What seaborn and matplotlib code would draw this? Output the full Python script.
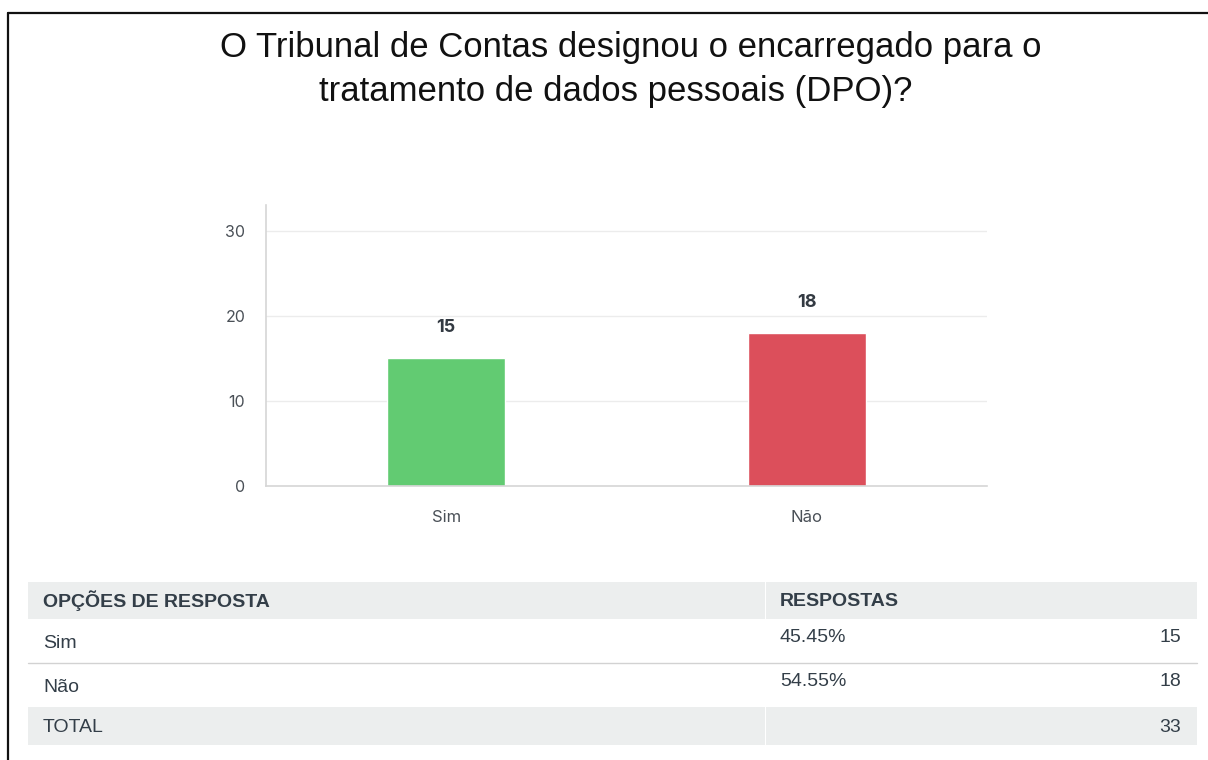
import matplotlib
matplotlib.use("Agg")
import matplotlib.pyplot as plt
import seaborn as sns
from matplotlib.patches import Rectangle
from matplotlib.lines import Line2D

# dados
opcoes = ["Sim", "Não"]
respostas = [15, 18]
cores = ["#62cb72", "#dc4f5b"]
titulo = ["O Tribunal de Contas designou o encarregado para o",
          "tratamento de dados pessoais (DPO)?"]
y_ticks = [0, 10, 20, 30]

total = sum(respostas)
percentuais = ["%.2f%%" % (100 * r / total) for r in respostas]

sns.set_theme(style="white")
plt.rcParams["font.family"] = ["Inter", "DejaVu Sans"]

W, H = 1208, 760
fig = plt.figure(figsize=(W / 100, H / 100), dpi=100)


def fx(px):
    return px / W


def fy(py):
    return 1 - py / H


# moldura
fig.add_artist(Line2D([fx(8), fx(1208)], [fy(13), fy(13)], color="#111111", lw=1.6))
fig.add_artist(Line2D([fx(8), fx(8)], [fy(13), fy(760)], color="#111111", lw=1.6))

# titulo
fig.text(fx(631), fy(48), titulo[0], ha="center", va="center", fontsize=25,
         family="Liberation Sans", color="#111111")
fig.text(fx(616), fy(92), titulo[1], ha="center", va="center", fontsize=25,
         family="Liberation Sans", color="#111111")

# grafico
ax = fig.add_axes([fx(266), fy(486), fx(987) - fx(266), fy(205) - fy(486)])
sns.barplot(x=opcoes, y=respostas, hue=opcoes, palette=cores, legend=False,
            width=0.327, saturation=1, ax=ax)
ax.set_ylim(0, 33)
ax.set_xlim(-0.5, 1.5)
ax.set_yticks(y_ticks)
ax.yaxis.grid(True, color="#ececec", lw=1)
ax.set_axisbelow(True)
for s in ["top", "right"]:
    ax.spines[s].set_visible(False)
for s in ["left", "bottom"]:
    ax.spines[s].set_color("#d6d6d6")
    ax.spines[s].set_linewidth(1.2)
ax.tick_params(axis="y", length=0, pad=15, labelsize=11.5, labelcolor="#4a5057")
ax.tick_params(axis="x", length=0, pad=17, labelsize=12, labelcolor="#4a5057")
ax.set_xlabel("")
ax.set_ylabel("")
for c in ax.containers:
    ax.bar_label(c, padding=16, fontsize=13, fontweight="bold", color="#333a42")

# tabela
cinza = "#eceeee"
fig.add_artist(Rectangle((fx(28), fy(619)), fx(765) - fx(28), fy(582) - fy(619),
                         color=cinza, lw=0))
fig.add_artist(Rectangle((fx(766), fy(619)), fx(1197) - fx(766), fy(582) - fy(619),
                         color=cinza, lw=0))
fig.add_artist(Rectangle((fx(28), fy(745)), fx(765) - fx(28), fy(707) - fy(745),
                         color=cinza, lw=0))
fig.add_artist(Rectangle((fx(766), fy(745)), fx(1197) - fx(766), fy(707) - fy(745),
                         color=cinza, lw=0))
fig.add_artist(Line2D([fx(28), fx(1197)], [fy(663), fy(663)], color="#d2d2d2", lw=1))

tf = dict(family="Liberation Sans", color="#333e48", va="center")
fig.text(fx(43), fy(601), "OPÇÕES DE RESPOSTA", fontsize=14, fontweight="bold", **tf)
fig.text(fx(780), fy(601), "RESPOSTAS", fontsize=14, fontweight="bold", **tf)

linhas_y = [643, 688]
for i, op in enumerate(opcoes):
    yl = linhas_y[i]
    fig.text(fx(43), fy(yl), op, fontsize=14, **tf)
    fig.text(fx(780), fy(yl - 6), percentuais[i], fontsize=14, **tf)
    fig.text(fx(1181), fy(yl - 6), str(respostas[i]), fontsize=14, ha="right", **tf)

fig.text(fx(43), fy(727), "TOTAL", fontsize=14, **tf)
fig.text(fx(1181), fy(727), str(total), fontsize=14, ha="right", **tf)

fig.savefig("out.png", dpi=100)
